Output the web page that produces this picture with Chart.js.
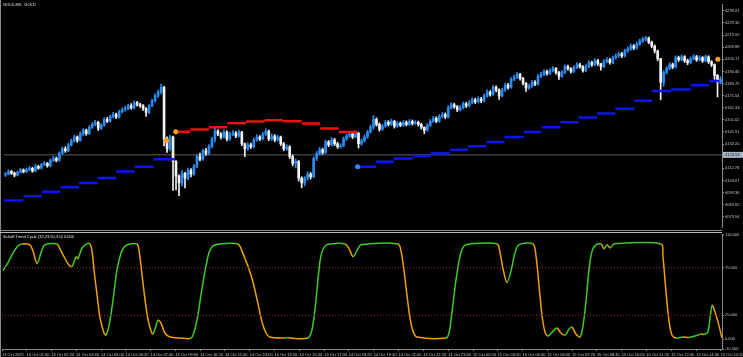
<!DOCTYPE html>
<html lang="en">
<head>
<meta charset="UTF-8">
<title>GOLD,M5 - Schaff Trend Cycle</title>
<script src="https://cdn.jsdelivr.net/npm/chart.js"></script>
<style>
  html, body { margin: 0; padding: 0; background: #000; }
  #wrap { position: relative; width: 743px; height: 357px; overflow: hidden; background: #000; }
  #priceBox { position: absolute; left: 0; top: 0; width: 743px; height: 231px; }
  #stcBox { position: absolute; left: 0; top: 231px; width: 743px; height: 126px; }
</style>
</head>
<body>
<div id="wrap">
  <div id="priceBox"><canvas id="priceChart"></canvas></div>
  <div id="stcBox"><canvas id="stcChart"></canvas></div>
</div>

<script>
  // ---- price panel data (one entry per candle) ----
  const firstOpen = 4107.3;
  const closes = [
    4108.1, 4110.2, 4108.8, 4107.3, 4109.6, 4111.4, 4110.0, 4111.9, 4112.8, 4110.6,
    4114.3, 4112.9, 4115.9, 4116.7, 4114.8, 4119.0, 4120.6, 4119.1, 4124.9, 4128.4,
    4126.8, 4131.6, 4134.7, 4137.9, 4135.1, 4140.2, 4143.3, 4140.6, 4145.7, 4148.0,
    4149.6, 4144.8, 4147.3, 4152.0, 4150.6, 4154.3, 4155.9, 4153.9, 4158.2, 4159.8,
    4160.6, 4162.9, 4161.2, 4165.3, 4163.7, 4162.9, 4160.6, 4157.5, 4162.9, 4166.9,
    4170.8, 4173.9, 4177.8, 4136.3, 4128.4, 4137.9, 4118.2, 4106.5, 4101.0, 4108.8,
    4104.9, 4111.2, 4108.1, 4114.3, 4122.2, 4120.0, 4126.9, 4124.8, 4130.0, 4136.3,
    4142.6, 4140.2, 4137.9, 4141.8, 4136.3, 4140.2, 4141.0, 4138.6, 4141.8, 4132.4,
    4128.4, 4131.6, 4130.0, 4135.5, 4137.9, 4136.3, 4140.2, 4142.6, 4136.3, 4138.6,
    4135.5, 4137.9, 4132.4, 4128.4, 4130.0, 4122.2, 4116.7, 4118.4, 4104.9, 4101.0,
    4104.9, 4108.1, 4106.0, 4120.6, 4124.5, 4127.7, 4125.4, 4133.9, 4131.6, 4135.5,
    4132.4, 4130.0, 4130.8, 4136.3, 4138.6, 4140.2, 4137.9, 4141.0, 4132.4, 4134.7,
    4137.9, 4141.8, 4145.7, 4152.0, 4148.0, 4144.1, 4146.5, 4149.6, 4148.0, 4150.4,
    4146.5, 4148.8, 4147.3, 4149.6, 4148.0, 4150.4, 4148.8, 4149.6, 4148.0, 4145.7,
    4143.3, 4147.3, 4150.4, 4152.8, 4150.6, 4154.3, 4155.9, 4153.9, 4161.4, 4163.7,
    4162.2, 4159.8, 4161.4, 4164.5, 4162.9, 4165.3, 4167.7, 4166.1, 4168.4, 4166.9,
    4170.8, 4173.9, 4172.0, 4177.8, 4175.5, 4170.8, 4175.5, 4179.4, 4177.6, 4184.1,
    4185.7, 4188.0, 4184.9, 4181.0, 4177.1, 4178.6, 4181.8, 4180.3, 4186.5, 4188.0,
    4190.4, 4188.8, 4191.2, 4192.7, 4189.6, 4186.5, 4189.6, 4194.3, 4192.7, 4190.4,
    4193.5, 4195.9, 4194.3, 4191.2, 4194.3, 4197.5, 4195.9, 4199.0, 4196.7, 4194.3,
    4198.2, 4199.8, 4197.5, 4201.4, 4202.9, 4204.5, 4202.9, 4206.9, 4208.4, 4210.8,
    4209.2, 4212.4, 4214.7, 4216.3, 4217.1, 4213.9, 4210.8, 4206.9, 4200.6, 4181.8,
    4189.6, 4192.7, 4195.9, 4194.0, 4201.4, 4199.8, 4202.2, 4199.0, 4197.5, 4200.6,
    4202.2, 4199.8, 4201.4, 4199.0, 4202.2, 4198.2, 4195.9, 4187.3, 4181.8, 4184.1
  ];
  const highs = [
    4109.5, 4111.6, 4111.0, 4109.8, 4110.4, 4112.9, 4112.3, 4113.0, 4114.4, 4113.6,
    4116.0, 4115.2, 4116.8, 4118.3, 4117.5, 4120.2, 4122.5, 4121.8, 4126.0, 4129.9,
    4130.1, 4132.8, 4136.2, 4139.4, 4138.8, 4142.0, 4144.6, 4144.2, 4146.9, 4149.5,
    4151.2, 4150.5, 4148.6, 4153.4, 4153.6, 4155.5, 4157.6, 4157.0, 4159.4, 4161.3,
    4162.4, 4164.3, 4164.6, 4166.8, 4166.4, 4165.0, 4163.8, 4161.4, 4163.9, 4168.2,
    4172.4, 4175.5, 4180.2, 4178.5, 4138.0, 4139.5, 4138.5, 4119.0, 4107.5, 4111.0,
    4109.5, 4113.0, 4112.5, 4116.0, 4123.8, 4124.9, 4128.2, 4128.8, 4131.7, 4137.6,
    4145.0, 4143.9, 4141.5, 4143.6, 4142.9, 4141.8, 4143.1, 4142.2, 4143.4, 4142.5,
    4133.0, 4133.2, 4133.0, 4136.9, 4139.8, 4139.0, 4141.6, 4144.5, 4143.4, 4140.4,
    4139.8, 4139.3, 4138.6, 4133.5, 4131.8, 4130.9, 4123.5, 4120.3, 4119.0, 4106.0,
    4106.2, 4110.0, 4109.4, 4121.9, 4126.2, 4129.5, 4128.9, 4135.3, 4135.0, 4137.4,
    4136.8, 4133.6, 4132.5, 4137.9, 4140.2, 4142.1, 4141.6, 4142.9, 4141.5, 4136.4,
    4139.4, 4143.2, 4147.5, 4155.1, 4153.3, 4149.2, 4148.0, 4151.3, 4151.0, 4152.2,
    4151.3, 4150.3, 4149.9, 4151.1, 4150.8, 4151.9, 4151.5, 4151.0, 4150.6, 4148.9,
    4146.0, 4148.7, 4151.9, 4154.4, 4154.0, 4155.8, 4157.7, 4157.2, 4162.9, 4165.4,
    4165.0, 4163.1, 4163.0, 4166.0, 4165.7, 4167.0, 4169.2, 4168.9, 4170.1, 4169.6,
    4172.3, 4175.6, 4175.0, 4179.3, 4178.9, 4176.5, 4177.0, 4181.1, 4180.9, 4185.6,
    4187.5, 4189.6, 4189.0, 4185.8, 4181.5, 4180.3, 4183.2, 4183.0, 4188.0, 4189.8,
    4192.0, 4191.6, 4192.8, 4194.4, 4193.5, 4190.5, 4191.1, 4195.8, 4195.5, 4193.6,
    4195.0, 4197.4, 4197.0, 4195.2, 4195.9, 4199.1, 4198.6, 4200.7, 4200.1, 4197.0,
    4199.8, 4201.5, 4200.9, 4202.8, 4204.6, 4206.0, 4205.7, 4208.3, 4210.1, 4212.4,
    4212.0, 4213.9, 4216.3, 4217.9, 4218.6, 4218.0, 4214.8, 4211.7, 4207.5, 4201.0,
    4191.0, 4194.3, 4197.5, 4197.2, 4202.9, 4202.7, 4203.8, 4203.1, 4200.3, 4202.1,
    4203.9, 4203.3, 4203.0, 4202.4, 4203.6, 4203.0, 4199.1, 4196.5, 4188.0, 4186.2
  ];
  const lows = [
    4106.2, 4107.4, 4107.9, 4105.9, 4106.6, 4108.8, 4109.1, 4109.3, 4110.8, 4109.5,
    4110.0, 4112.0, 4112.2, 4114.9, 4113.6, 4114.0, 4118.1, 4117.9, 4118.5, 4124.0,
    4125.5, 4126.0, 4130.7, 4133.8, 4133.6, 4134.4, 4139.0, 4139.2, 4139.8, 4144.6,
    4146.9, 4143.0, 4143.7, 4146.5, 4149.4, 4149.8, 4153.2, 4152.6, 4153.0, 4157.1,
    4158.6, 4159.5, 4160.1, 4160.4, 4162.5, 4161.6, 4159.2, 4154.3, 4156.6, 4162.0,
    4165.8, 4169.6, 4172.5, 4130.8, 4125.5, 4126.8, 4095.0, 4095.5, 4090.8, 4098.5,
    4097.1, 4103.5, 4105.9, 4107.0, 4113.2, 4118.6, 4119.1, 4123.0, 4123.9, 4129.2,
    4134.0, 4139.0, 4136.4, 4137.0, 4134.8, 4135.2, 4138.9, 4137.3, 4137.7, 4130.9,
    4122.2, 4127.1, 4128.6, 4129.1, 4134.4, 4134.9, 4135.5, 4139.1, 4134.8, 4135.1,
    4134.0, 4134.6, 4131.0, 4126.9, 4127.2, 4120.5, 4114.8, 4113.0, 4102.5, 4097.1,
    4098.6, 4103.3, 4104.1, 4105.2, 4119.0, 4123.3, 4123.9, 4124.6, 4130.1, 4130.5,
    4131.0, 4128.7, 4129.0, 4130.0, 4135.2, 4137.5, 4136.5, 4137.1, 4129.0, 4131.2,
    4133.8, 4136.8, 4140.9, 4144.0, 4146.6, 4142.5, 4143.2, 4145.6, 4146.8, 4147.1,
    4145.0, 4145.6, 4146.1, 4146.4, 4146.7, 4147.2, 4147.4, 4147.9, 4146.5, 4144.2,
    4140.5, 4142.4, 4146.2, 4149.5, 4149.3, 4149.7, 4153.0, 4152.4, 4153.1, 4160.2,
    4160.9, 4158.2, 4158.7, 4160.3, 4161.5, 4162.0, 4164.4, 4164.7, 4165.2, 4165.3,
    4165.9, 4169.7, 4170.6, 4171.2, 4174.0, 4168.0, 4169.9, 4174.4, 4176.2, 4176.8,
    4183.0, 4184.6, 4183.5, 4179.6, 4174.5, 4176.0, 4177.7, 4179.0, 4179.5, 4185.4,
    4187.1, 4187.5, 4187.9, 4190.1, 4188.2, 4184.0, 4185.6, 4188.7, 4191.4, 4189.0,
    4189.5, 4192.6, 4193.0, 4189.8, 4190.3, 4193.4, 4194.5, 4195.0, 4195.3, 4191.5,
    4193.4, 4197.3, 4196.2, 4196.6, 4200.3, 4201.8, 4201.5, 4202.0, 4205.8, 4207.3,
    4207.9, 4208.3, 4211.3, 4213.6, 4214.9, 4212.6, 4209.4, 4205.2, 4199.0, 4167.7,
    4178.5, 4188.3, 4191.8, 4192.6, 4193.1, 4198.4, 4198.9, 4197.6, 4195.8, 4196.6,
    4199.5, 4198.5, 4198.9, 4197.7, 4198.1, 4196.8, 4194.3, 4184.0, 4170.0, 4180.4
  ];
  const priceTicks = [4239.01, 4229.30, 4219.59, 4209.88, 4200.17, 4190.46, 4180.75, 4171.04, 4161.33,
                      4151.62, 4141.91, 4132.20, 4112.78, 4103.07, 4093.36, 4083.65, 4073.94];
  const markLine = 4123.53;

  // trend levels: [from candle, to candle, price]
  const redLevels = [
    [56.8, 61.8, 4142.0], [61.8, 68.0, 4143.9], [68.0, 74.2, 4145.7], [74.2, 80.4, 4148.8],
    [80.4, 86.6, 4150.2], [86.6, 92.8, 4151.2], [92.8, 99.0, 4150.4], [99.0, 105.2, 4148.6],
    [105.2, 111.4, 4144.7], [111.4, 117.6, 4141.8]
  ];
  const blueLevels = [
    [-0.5, 6.0, 4086.9], [6.0, 12.2, 4090.4], [12.2, 18.4, 4093.9], [18.4, 24.6, 4097.5],
    [24.6, 30.8, 4101.0], [30.8, 37.0, 4104.9], [37.0, 43.2, 4110.2], [43.2, 49.5, 4114.1],
    [49.5, 56.5, 4120.1],
    [117.8, 123.8, 4114.1], [123.8, 129.8, 4118.0], [129.8, 136.2, 4120.6], [136.2, 142.2, 4122.7],
    [142.2, 148.5, 4124.9], [148.5, 154.5, 4127.7], [154.5, 160.8, 4130.4], [160.8, 166.8, 4133.9],
    [166.8, 173.2, 4137.9], [173.2, 179.2, 4141.8], [179.2, 185.5, 4145.7], [185.5, 191.5, 4149.6],
    [191.5, 197.8, 4153.5], [197.8, 203.8, 4156.7], [203.8, 210.2, 4160.6], [210.2, 216.2, 4166.9],
    [216.2, 222.5, 4174.7], [222.5, 229.2, 4176.0], [229.2, 235.2, 4179.4], [235.2, 238.6, 4182.8]
  ];
  const orangeDots = [[53.8, 4135.0], [56.9, 4142.0], [238.1, 4200.3]];
  const blueDots = [[117.7, 4114.1]];

  // ---- Schaff Trend Cycle: [candle, value] ----
  const stcPoints = [
    [-0.2, 71.9], [1.5, 80.2], [3.2, 90.6], [4.8, 97.9], [6.2, 100], [8.8, 99],
    [9.8, 92.7], [11.2, 79.2], [12.5, 90.6], [13.8, 99], [17.8, 100],
    [18.8, 94.8], [20.2, 86.5], [21.5, 79.2], [22.8, 76], [24.2, 86.5], [24.8, 84.4],
    [26.2, 95.8], [27.8, 100], [28.8, 100],
    [29.5, 92.7], [30.2, 71.9], [31.2, 45.8], [32.2, 21.9], [33.5, 6.3], [34.2, 4.2],
    [35.2, 14.6], [36.5, 40.6], [37.8, 71.9], [39.2, 90.6], [40.5, 97.9], [42.2, 100], [44.5, 100],
    [45.2, 92.7], [46.2, 66.7], [47.2, 40.6], [48.2, 19.8], [49.2, 8.3], [49.8, 5.2],
    [50.8, 13.5], [51.5, 19.8], [52.5, 16.7], [53.8, 6.3], [55.5, 2.1], [58.8, 1], [62.2, 0.5],
    [63.2, 4.2], [64.5, 19.8], [65.8, 45.8], [67.2, 71.9], [68.5, 90.6], [69.8, 97.9], [72.2, 100], [78.2, 100],
    [79.2, 94.8], [80.5, 84.4], [81.8, 74], [83.2, 59.4], [84.8, 37.5], [86.2, 17.7], [87.5, 6.3], [88.8, 2.1],
    [93.8, 1], [94.8, 1.6], [95.5, 1], [101.5, 1],
    [102.8, 9.4], [103.8, 30.2], [104.8, 61.5], [105.8, 87.5], [107.2, 97.9], [108.8, 100], [113.8, 100],
    [115.2, 94.8], [116.5, 86.5], [117.8, 92.7], [119.2, 99], [131.5, 100],
    [132.5, 92.7], [133.5, 71.9], [134.5, 45.8], [135.5, 21.9], [136.5, 8.3], [137.8, 2.1], [147.5, 1],
    [148.5, 6.3], [149.5, 28.1], [150.8, 61.5], [152.2, 87.5], [153.5, 97.9], [155.5, 100], [164.5, 100],
    [165.5, 90.6], [166.5, 74], [167.8, 59.4], [169.2, 71.9], [170.5, 90.6], [171.8, 99], [176.5, 100],
    [177.5, 87.5], [178.5, 56.3], [179.5, 25], [180.5, 7.3], [181.5, 3.1],
    [183.2, 8.3], [184.5, 11.5], [185.8, 6.3], [187.2, 4.2], [188.5, 10.4], [189.5, 12.5],
    [190.8, 5.2], [192.2, 2.1],
    [193.2, 14.6], [194.2, 40.6], [195.2, 74], [196.2, 92.7], [197.5, 99], [199.2, 100],
    [200.2, 94.8], [201.2, 99], [202.2, 95.8], [203.5, 100], [219.2, 100],
    [219.8, 87.5], [220.8, 51], [221.8, 19.8], [222.8, 4.2], [224.2, 1],
    [226.5, 2.1], [228.5, 1.6], [230.5, 3.1], [232.5, 5.2], [233.5, 4.8], [234.8, 7.3],
    [236.2, 35.4], [237.2, 28.1], [238.2, 17.7], [239.5, 1]
  ];
  const stcTicks = [110, 75, 25, 0, -10.5];
  const stcLevels = [75, 25];

  // ---- time axis ----
  const timeLabels = [
    '13 Oct 2025', '14 Oct 01:00', '14 Oct 02:20', '14 Oct 03:40', '14 Oct 05:00', '14 Oct 06:20',
    '14 Oct 07:40', '14 Oct 09:00', '14 Oct 10:20', '14 Oct 11:40', '14 Oct 13:00', '14 Oct 14:20',
    '14 Oct 15:40', '14 Oct 17:00', '14 Oct 18:20', '14 Oct 19:40', '14 Oct 21:00', '14 Oct 22:20',
    '14 Oct 23:40', '15 Oct 02:00', '15 Oct 03:20', '15 Oct 04:40', '15 Oct 06:00', '15 Oct 07:20',
    '15 Oct 08:40', '15 Oct 10:00', '15 Oct 11:20', '15 Oct 12:40', '15 Oct 14:00', '15 Oct 15:20'
  ];
  const timeTickPos = [
    -0.5, 7.7, 15.9, 24.2, 32.5, 40.7, 49.0, 57.3, 65.5, 73.8, 82.1, 90.3, 98.6, 106.9, 115.1,
    123.4, 131.7, 139.9, 148.2, 156.5, 164.7, 173.0, 181.3, 189.5, 197.8, 206.1, 214.3, 222.6, 230.9, 239.1
  ];

  const X_MIN = -0.5, X_MAX = 239.5;
  const BULL = '#2a8cf0', BEAR = '#f2f2f2';
  const AXIS_TEXT = '#c4c4c4', FRAME = '#8a8a8a';
  const FONT = { family: 'Liberation Sans', size: 4 };

  Chart.defaults.animation = false;
  Chart.defaults.events = [];
  Chart.defaults.plugins.legend.display = false;
  Chart.defaults.plugins.tooltip.enabled = false;

  const opens = closes.map((c, i) => i === 0 ? firstOpen : closes[i - 1]);
  const candleColors = closes.map((c, i) => c >= opens[i] ? BULL : BEAR);

  function levelData(levels) {
    const pts = [];
    levels.forEach(([a, b, p]) => { pts.push({ x: a, y: p }, { x: b, y: p }, { x: b, y: null }); });
    return pts;
  }

  const priceFrame = {
    id: 'priceFrame',
    afterDraw(chart) {
      const ctx = chart.ctx;
      ctx.save();
      ctx.fillStyle = FRAME;
      ctx.fillRect(0, 0, 1, chart.height);
      ctx.fillRect(0, chart.height - 1, chart.chartArea.right, 1);
      // current level tag
      const y = chart.scales.y.getPixelForValue(markLine);
      ctx.fillStyle = '#a8b6ca';
      ctx.fillRect(chart.chartArea.right + 1, y - 3, 20, 6);
      ctx.fillStyle = '#101010';
      ctx.font = '4px "Liberation Sans"';
      ctx.textBaseline = 'middle';
      ctx.fillText(markLine.toFixed(2), chart.chartArea.right + 3, y);
      ctx.fillStyle = '#e8e8e8';
      ctx.textBaseline = 'top';
      ctx.fillText('GOLD,M5:  GOLD', 3, 3);
      ctx.restore();
    }
  };

  const stcFrame = {
    id: 'stcFrame',
    afterDraw(chart) {
      const ctx = chart.ctx;
      ctx.save();
      ctx.fillStyle = FRAME;
      ctx.fillRect(0, 0, 1, chart.height);
      ctx.fillStyle = '#b8b8b8';
      ctx.fillRect(0, 1, chart.chartArea.right, 1);
      ctx.fillStyle = '#e8e8e8';
      ctx.font = '4px "Liberation Sans"';
      ctx.textBaseline = 'top';
      ctx.fillText('Schaff Trend Cycle (32,23,50,3.0) 0.000', 3, 4);
      ctx.restore();
    }
  };

  new Chart(document.getElementById('priceChart'), {
    type: 'bar',
    data: {
      datasets: [
        {
          type: 'line', order: 10,
          data: [{ x: X_MIN, y: markLine }, { x: X_MAX, y: markLine }],
          borderColor: '#5e5e5e', borderWidth: 1, pointRadius: 0
        },
        {
          type: 'bar', order: 6, grouped: false,
          data: closes.map((c, i) => ({ x: i, y: [lows[i], highs[i]] })),
          backgroundColor: candleColors,
          barThickness: 1
        },
        {
          type: 'bar', order: 5, grouped: false,
          data: closes.map((c, i) => ({ x: i, y: [opens[i], c] })),
          backgroundColor: candleColors,
          barThickness: 2, minBarLength: 1
        },
        {
          type: 'line', order: 3,
          data: levelData(redLevels),
          borderColor: '#ee1111', borderWidth: 2.5, pointRadius: 0, spanGaps: false
        },
        {
          type: 'line', order: 3,
          data: levelData(blueLevels),
          borderColor: '#0a14f5', borderWidth: 2.5, pointRadius: 0, spanGaps: false
        },
        {
          type: 'line', order: 1, showLine: false,
          data: orangeDots.map(([x, y]) => ({ x, y })),
          pointRadius: 2.5, pointBackgroundColor: '#ffa010', pointBorderWidth: 0
        },
        {
          type: 'line', order: 1, showLine: false,
          data: blueDots.map(([x, y]) => ({ x, y })),
          pointRadius: 2.5, pointBackgroundColor: '#2a8cf0', pointBorderWidth: 0
        }
      ]
    },
    options: {
      responsive: true,
      maintainAspectRatio: false,
      devicePixelRatio: 1,
      layout: { padding: { left: 2, top: 2, right: 0, bottom: 1 } },
      scales: {
        x: {
          type: 'linear', min: X_MIN, max: X_MAX, offset: false, display: false,
          grid: { display: false }
        },
        y: {
          position: 'right', min: 4065.7, max: 4244.5,
          afterFit: s => { s.width = 21; },
          afterBuildTicks: s => { s.ticks = priceTicks.map(v => ({ value: v })); },
          grid: { drawOnChartArea: false, color: FRAME, tickLength: 2 },
          border: { color: FRAME },
          ticks: {
            autoSkip: false, padding: 1, color: AXIS_TEXT, font: FONT,
            callback: v => v.toFixed(2)
          }
        }
      }
    },
    plugins: [priceFrame]
  });

  const GREEN = '#3ccc28', ORANGE = '#f0a000';

  new Chart(document.getElementById('stcChart'), {
    type: 'line',
    data: {
      datasets: [
        ...stcLevels.map(v => ({
          data: [{ x: X_MIN, y: v }, { x: X_MAX, y: v }],
          borderColor: '#b01c1c', borderWidth: 1, borderDash: [1, 2], pointRadius: 0
        })),
        {
          data: stcPoints.map(([x, y]) => ({ x, y })),
          borderWidth: 1.5, pointRadius: 0, tension: 0.3,
          borderColor: GREEN,
          segment: {
            borderColor: c => {
              const a = c.p0.parsed.y, b = c.p1.parsed.y;
              if (b > a) return GREEN;
              if (b < a) return ORANGE;
              return a > 50 ? GREEN : ORANGE;
            }
          }
        }
      ]
    },
    options: {
      responsive: true,
      maintainAspectRatio: false,
      devicePixelRatio: 1,
      layout: { padding: { left: 2, top: 2, right: 0, bottom: 0 } },
      scales: {
        x: {
          type: 'linear', min: X_MIN, max: X_MAX, offset: false,
          afterBuildTicks: s => { s.ticks = timeTickPos.map(v => ({ value: v })); },
          afterFit: s => { s.height = 8; s.paddingLeft = 0; s.paddingRight = 0; },
          grid: { drawOnChartArea: false, color: FRAME, tickLength: 2 },
          border: { color: FRAME },
          ticks: {
            autoSkip: false, maxRotation: 0, minRotation: 0, align: 'start', padding: 1,
            color: AXIS_TEXT, font: FONT,
            callback: (v, i) => timeLabels[i]
          }
        },
        y: {
          position: 'right', min: -10.5, max: 110,
          afterFit: s => { s.width = 21; },
          afterBuildTicks: s => { s.ticks = stcTicks.map(v => ({ value: v })); },
          grid: { drawOnChartArea: false, color: FRAME, tickLength: 2 },
          border: { color: FRAME },
          ticks: {
            autoSkip: false, padding: 1, color: AXIS_TEXT, font: FONT,
            callback: v => v.toFixed(3)
          }
        }
      }
    },
    plugins: [stcFrame]
  });
</script>
</body>
</html>
